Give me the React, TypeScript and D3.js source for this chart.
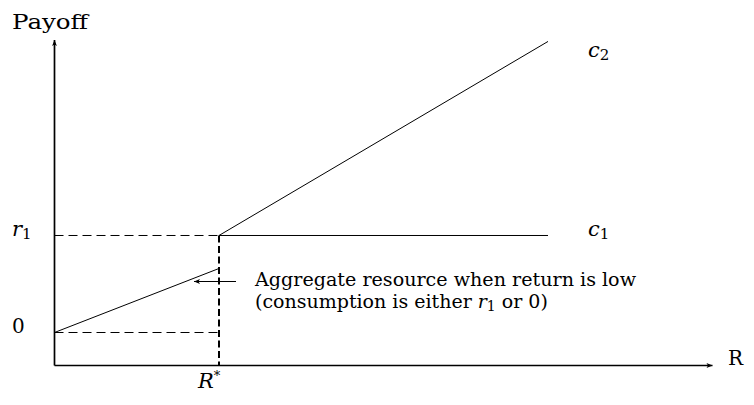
import React from "react";
import * as d3 from "d3";

// Payoff schedules (R on the horizontal axis, payoff on the vertical axis)
const rStar = 1;
const r1 = 1;
const lowR = [0, 1];
const lowPayoff = [0, 0.66];
const c1R = [1, 3];
const c1Payoff = [1, 1];
const c2R = [1, 3];
const c2Payoff = [1, 3];

const xDomain = [0, 4];
const yDomain = [-0.34, 3.015];

const annotationLines = [
  "Aggregate resource when return is low",
  "(consumption is either ",
];

const W = 754;
const H = 405;
const serif = "'DejaVu Serif', 'Liberation Serif', serif";

export default function App() {
  const x = d3.scaleLinear().domain(xDomain).range([54.5, 712.5]);
  const y = d3.scaleLinear().domain(yDomain).range([365.5, 40]);

  const line = d3
    .line<[number, number]>()
    .x((d) => x(d[0]))
    .y((d) => y(d[1]));

  const zip = (a: number[], b: number[]) =>
    a.map((v, i) => [v, b[i]] as [number, number]);

  const x0 = x(0);
  const yBase = y(yDomain[0]);
  const xs = x(rStar);
  const yr1 = y(r1);
  const y0 = y(0);

  return (
    <svg
      width={W}
      height={H}
      viewBox={`0 0 ${W} ${H}`}
      style={{ position: "absolute", left: 0, top: 0, background: "#fff" }}
    >
      <defs>
        <marker
          id="ah"
          viewBox="0 0 10 10"
          refX="10"
          refY="5"
          markerWidth="10"
          markerHeight="6"
          markerUnits="userSpaceOnUse"
          orient="auto"
        >
          <path d="M0,1 L10,5 L0,9 L2.5,5 Z" fill="#000" />
        </marker>
      </defs>

      {/* axes */}
      <line x1={x0} y1={yBase} x2={x0} y2={y(yDomain[1])} stroke="#000" strokeWidth={1.7} markerEnd="url(#ah)" />
      <line x1={x0} y1={yBase} x2={x(xDomain[1])} y2={yBase} stroke="#000" strokeWidth={1.7} markerEnd="url(#ah)" />

      {/* guide lines */}
      <line x1={x0} y1={yr1} x2={xs} y2={yr1} stroke="#000" strokeWidth={1} strokeDasharray="9 5" />
      <line x1={x0} y1={y0} x2={xs} y2={y0} stroke="#000" strokeWidth={1} strokeDasharray="9 5" />
      <line x1={xs} y1={yr1} x2={xs} y2={yBase} stroke="#000" strokeWidth={2} strokeDasharray="7 3.5" />

      {/* payoff schedules */}
      <path d={line(zip(lowR, lowPayoff)) ?? ""} fill="none" stroke="#000" strokeWidth={1} />
      <path d={line(zip(c1R, c1Payoff)) ?? ""} fill="none" stroke="#000" strokeWidth={1} />
      <path d={line(zip(c2R, c2Payoff)) ?? ""} fill="none" stroke="#000" strokeWidth={1} />

      {/* annotation arrow */}
      <line x1={236} y1={281.5} x2={194} y2={281.5} stroke="#000" strokeWidth={1} markerEnd="url(#ah)" />

      <g fontFamily={serif} fill="#000">
        <text x={12} y={29} fontSize={20} textLength={76} lengthAdjust="spacingAndGlyphs">Payoff</text>
        <text x={728} y={365} fontSize={20}>R</text>

        <text x={12} y={236} fontSize={21} fontStyle="italic">
          r<tspan fontSize={15} fontStyle="normal" dy={3}>1</tspan>
        </text>
        <text x={12} y={333} fontSize={20}>0</text>

        <text x={588} y={57} fontSize={21} fontStyle="italic">
          c<tspan fontSize={15} fontStyle="normal" dy={3}>2</tspan>
        </text>
        <text x={588} y={236} fontSize={21} fontStyle="italic">
          c<tspan fontSize={15} fontStyle="normal" dy={3}>1</tspan>
        </text>

        <text x={198} y={388} fontSize={21} fontStyle="italic">
          R<tspan fontSize={13} fontStyle="normal" dy={-8}>*</tspan>
        </text>

        <text x={255} y={286} fontSize={19} textLength={381} lengthAdjust="spacingAndGlyphs">
          {annotationLines[0]}
        </text>
        <text x={255} y={308} fontSize={19}>
          {annotationLines[1]}
          <tspan fontStyle="italic">r</tspan>
          <tspan fontSize={14} dy={3}>1</tspan>
          <tspan dy={-3}> or 0)</tspan>
        </text>
      </g>
    </svg>
  );
}
